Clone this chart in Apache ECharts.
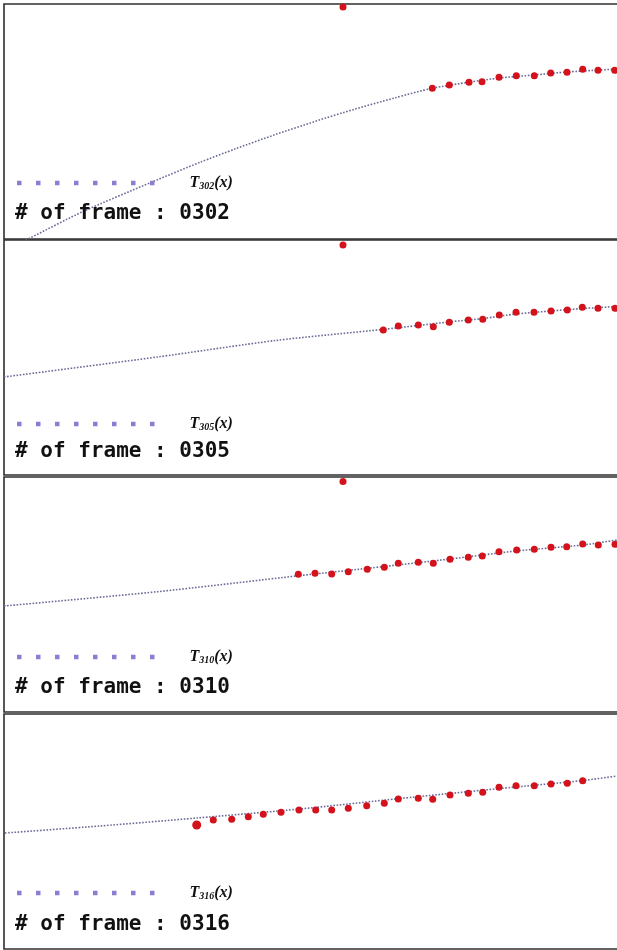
<!DOCTYPE html>
<html><head><meta charset="utf-8">
<script src="https://cdn.jsdelivr.net/npm/echarts@6/dist/echarts.min.js"></script>
<style>html,body{margin:0;padding:0;background:#fff}#c{width:617px;height:950px}</style>
</head><body><div id="c"></div>
<script>
// Frame numbers shown in the four panels
const frames = ['0302', '0305', '0310', '0316'];

// Fitted trajectory T_n(x) in frame pixel coordinates (x right, y down)
const fitX302 = [16, 26, 79, 148, 196, 232, 271, 311, 350, 390, 428, 466, 496, 530, 563, 596, 613];
const fitY302 = [239, 234, 207.5, 178, 158.3, 144.6, 130.7, 117.4, 105.4, 94.1, 84.3, 78, 74, 71, 68, 66, 65];
const fitX305 = [0, 153.5, 271.5, 380, 414, 446, 479, 512, 547, 579, 613];
const fitY305 = [137, 117, 100.5, 89.3, 85.5, 81.8, 78.5, 74, 71, 68.5, 66.5];
const fitX310 = [0, 153.5, 295, 380, 446, 512, 579, 613];
const fitY310 = [129, 114.7, 98.7, 89.5, 82, 74, 68, 63];
const fitX316 = [1, 96, 193, 296, 396, 496, 579, 613];
const fitY316 = [119, 112, 104, 95, 84.5, 74.5, 66.5, 62];

// Observed (detected) positions, red dots
const obsX302 = [428.3, 445.3, 465, 478, 495, 512.3, 530.3, 546.7, 563, 578.7, 594, 610.7];
const obsY302 = [84.3, 81, 78.3, 77.7, 73.3, 71.7, 71.7, 69, 68.3, 65.3, 66.3, 66.3];
const obsX305 = [379.3, 394.3, 414.3, 429.3, 445.3, 464.3, 478.7, 495.3, 512, 530, 547, 563.3, 578.3, 594, 611];
const obsY305 = [90, 86, 85, 86.7, 82.3, 80, 79.3, 75, 72.3, 72.3, 71, 70, 67.3, 68.3, 68.3];
const obsX310 = [294.3, 311, 327.7, 344.3, 363.3, 380.3, 394.3, 414.3, 429.3, 446, 464.3, 478.3, 495, 512.7, 530.3, 547, 562.7, 578.7, 594.3, 611];
const obsY310 = [97.3, 96.3, 97, 94.7, 92.3, 90.3, 86.3, 85.3, 86.3, 82.3, 80.3, 79, 74.7, 73, 72.3, 70.3, 69.7, 67, 68, 67.3];
const obsX316 = [192.7, 209.3, 227.7, 244.3, 259.3, 277, 295, 311.7, 327.7, 344.3, 362.7, 380.3, 394.3, 414.3, 428.7, 446, 464.3, 478.7, 495, 512, 530.3, 547, 563.3, 578.7];
const obsY316 = [111, 106, 105.3, 102.7, 100.3, 98.3, 96, 96, 96, 94.3, 91.7, 89.3, 85, 84.3, 85.3, 81, 79.3, 78.3, 73.3, 71.7, 71.7, 70, 69.3, 66.7];

// Isolated outlier detection near the top of the frame
const outX = [339, 339, 339];
const outY = [3, 5, 4.5];

const fits = [[fitX302, fitY302], [fitX305, fitY305], [fitX310, fitY310], [fitX316, fitY316]];
const obs = [[obsX302, obsY302], [obsX305, obsY305], [obsX310, obsY310], [obsX316, obsY316]];

// layout
const panelTop = [4, 240, 477, 714];
const panelH = 235;
const frameW = 621;
const legendCenter = [183, 424, 657, 893];
const textCenter = [214, 452, 688, 925];

const lineColor = '#6a6c98';
const dotColor = '#d3121c';
const legendColor = '#8a7ed2';

const iconPath = 'path://' + [0, 19, 38, 57, 76, 95, 114, 133].map(x => `M${x},0h4.5v4.5h-4.5z`).join(' ');

const grid = [], xAxis = [], yAxis = [], series = [], legend = [], title = [];
frames.forEach((f, i) => {
  grid.push({ left: 4, top: panelTop[i], width: frameW, height: panelH, show: true,
    outerBoundsMode: 'none', containLabel: false,
    borderColor: '#2f2f2f', borderWidth: 1.6, backgroundColor: 'transparent' });
  xAxis.push({ type: 'value', gridIndex: i, min: 0, max: frameW, show: false });
  yAxis.push({ type: 'value', gridIndex: i, min: 0, max: panelH, inverse: true, show: false });
  const name = 'T' + f.slice(1) + '(x)';
  series.push({
    name, type: 'line', xAxisIndex: i, yAxisIndex: i,
    data: fits[i][0].map((x, k) => [x, fits[i][1][k]]),
    showSymbol: false, smooth: 0.25, silent: true,
    lineStyle: { color: lineColor, width: 1.6, type: [1.6, 1.6] }, z: 2
  });
  const pts = obs[i][0].map((x, k) => [x, obs[i][1][k]]);
  if (i < outX.length) pts.push([outX[i], outY[i]]);
  series.push({
    name: 'obs' + f, type: 'scatter', xAxisIndex: i, yAxisIndex: i,
    data: pts, silent: true,
    symbolSize: (v, p) => (i === 3 && p.dataIndex === 0) ? 9 : 7,
    itemStyle: { color: dotColor, opacity: 1 }, z: 3
  });
  legend.push({
    data: [{ name, icon: iconPath }], left: 17, top: legendCenter[i] - 8, padding: 0,
    itemWidth: 137.5, itemHeight: 4.5, selectedMode: false,
    itemStyle: { color: legendColor },
    formatter: () => `{g|}{t|T}{s|${f.slice(1)}}{t|(x)}`,
    textStyle: {
      rich: {
        g: { width: 30, height: 16 },
        t: { fontFamily: 'Liberation Serif', fontStyle: 'italic', fontWeight: 'bold', fontSize: 16, color: '#111', lineHeight: 16 },
        s: { fontFamily: 'Liberation Serif', fontStyle: 'italic', fontWeight: 'bold', fontSize: 10, color: '#111', lineHeight: 10, verticalAlign: 'bottom' }
      }
    }
  });
  title.push({
    text: '# of frame : ' + f, left: 15, top: textCenter[i] - 11, padding: 0,
    textStyle: { fontFamily: 'DejaVu Sans Mono', fontWeight: 'bold', fontSize: 21, color: '#111', lineHeight: 22 }
  });
});

const chart = echarts.init(document.getElementById('c'), null, { renderer: 'canvas' });
chart.setOption({ animation: false, backgroundColor: '#fff', grid, xAxis, yAxis, series, legend, title });
</script>
</body></html>
